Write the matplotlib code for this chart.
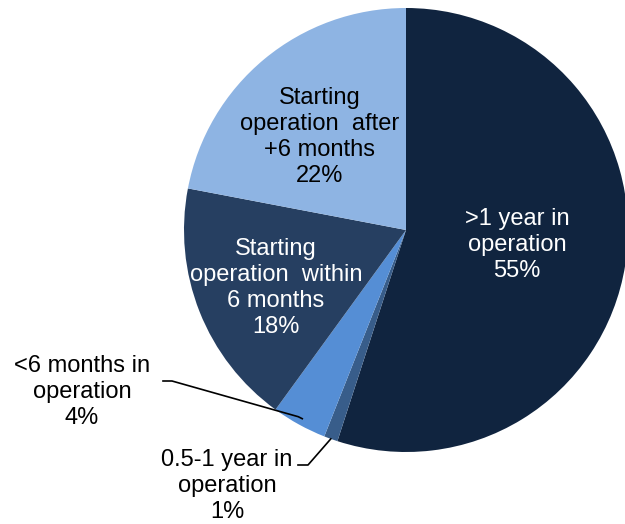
import matplotlib.pyplot as plt
import numpy as np

labels = [">1 year in\noperation", "0.5-1 year in\noperation", "<6 months in\noperation",
          "Starting\noperation  within\n6 months", "Starting\noperation  after\n+6 months"]
shares = [55, 1, 4, 18, 22]
colors = ["#10243F", "#385D8A", "#558ED5", "#263F61", "#8EB4E3"]

plt.rcParams['font.family'] = ['Liberation Sans', 'DejaVu Sans']

W, H = 625, 524
fig = plt.figure(figsize=(W / 100, H / 100), dpi=100)
ax = fig.add_axes([0, 0, 1, 1])

cx, cy, r = 406, H - 230, 222
wedges, _ = ax.pie(shares, colors=colors, startangle=90, counterclock=False,
                   center=(cx, cy), radius=r, wedgeprops=dict(linewidth=0))
ax.set_xlim(0, W)
ax.set_ylim(0, H)
ax.set_aspect('equal')
ax.axis('off')

def mid_point(i, frac=0.97):
    w = wedges[i]
    a = np.deg2rad((w.theta1 + w.theta2) / 2)
    return cx + r * frac * np.cos(a), cy + r * frac * np.sin(a)

fs = 17
ls = 1.22
# inside labels (x, y from top, colour)
inside = {0: (517, 245, 'white'), 3: (276, 288, 'white'), 4: (320, 137, 'black')}
for i, (x, y, c) in inside.items():
    ax.text(x, H - y, f"{labels[i]}\n{shares[i]}%", ha='center', va='center',
            fontsize=fs, color=c, linespacing=ls)

# outside labels with leader lines
ax.text(82, H - 392, f"{labels[2]}\n{shares[2]}%", ha='center', va='center',
        fontsize=fs, color='black', linespacing=ls)
px, py = mid_point(2)
ax.plot([163, 172, px - 4, px], [H - 381, H - 381, py + 2, py], color='black', lw=1.2)

ax.text(227, H - 486, f"{labels[1]}\n{shares[1]}%", ha='center', va='center',
        fontsize=fs, color='black', linespacing=ls)
px, py = mid_point(1, 1.0)
ax.plot([298, 308, px], [H - 465, H - 465, py], color='black', lw=1.2)

fig.savefig("out.png", dpi=100)
